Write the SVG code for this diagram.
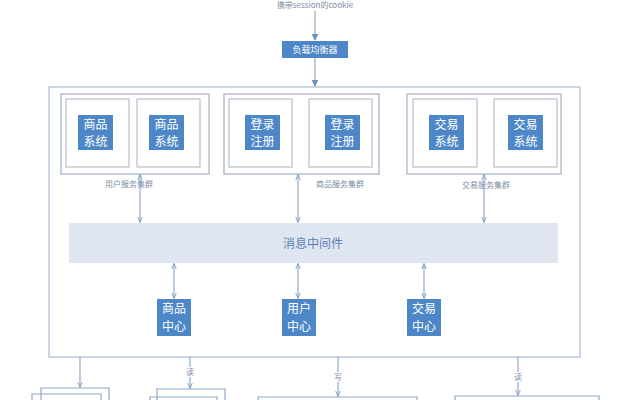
<svg xmlns="http://www.w3.org/2000/svg" width="626" height="400" viewBox="0 0 626 400">
<defs>
<marker id="ah" viewBox="0 0 10 10" refX="9" refY="5" markerWidth="6" markerHeight="6" orient="auto-start-reverse" markerUnits="userSpaceOnUse"><path d="M0,1 L10,5 L0,9" fill="none" stroke="#7f9ab9" stroke-width="1.5"/></marker>
<marker id="ahf" viewBox="0 0 10 10" refX="9" refY="5" markerWidth="7" markerHeight="7" orient="auto" markerUnits="userSpaceOnUse"><path d="M0,0 L10,5 L0,10 z" fill="#6d8fb9"/></marker>
</defs>
<style>
.frame{fill:none;stroke:#a9bbd3;stroke-width:1.2}
.grp{fill:none;stroke:#b7c0cc;stroke-width:1.5}
.inner{fill:#fff;stroke:#b7c0cc;stroke-width:1.2}
.blue{fill:#4d87c7}
.wt{fill:#fff;font-family:"Noto Sans CJK SC","Liberation Sans",sans-serif;font-size:12px;text-anchor:middle}
.sm{fill:#7d8ca3;font-family:"Noto Sans CJK SC","Liberation Sans",sans-serif;font-size:8px;text-anchor:middle}
.ln{stroke:#90a9c8;stroke-width:1.2;fill:none}
</style>
<rect width="626" height="400" fill="#fff"/>
<g id="top-label"><text class="sm" x="315" y="8">携带session的cookie</text></g>
<g id="lb"><rect class="blue" x="282" y="41" width="66" height="17"/><text class="wt" x="315" y="53" style="font-size:9px">负载均衡器</text></g>
<g id="main-frame"><rect class="frame" x="49" y="87" width="531" height="270"/></g>
<g id="cluster-user">
<rect class="grp" x="61" y="94" width="148" height="80"/>
<rect class="inner" x="66" y="99" width="63" height="68"/>
<rect class="inner" x="137" y="99" width="63" height="68"/>
<rect class="blue" x="78" y="115" width="35" height="35"/><text class="wt" x="95.5" y="129">商品</text><text class="wt" x="95.5" y="146">系统</text>
<rect class="blue" x="149" y="115" width="35" height="35"/><text class="wt" x="166.5" y="129">商品</text><text class="wt" x="166.5" y="146">系统</text>
<text class="sm" x="129" y="187">用户服务集群</text>
</g>
<g id="cluster-goods">
<rect class="grp" x="224" y="94" width="155" height="80"/>
<rect class="inner" x="229" y="99" width="63" height="68"/>
<rect class="inner" x="309" y="99" width="63" height="68"/>
<rect class="blue" x="245" y="115" width="35" height="35"/><text class="wt" x="262.5" y="129">登录</text><text class="wt" x="262.5" y="146">注册</text>
<rect class="blue" x="325" y="115" width="35" height="35"/><text class="wt" x="342.5" y="129">登录</text><text class="wt" x="342.5" y="146">注册</text>
<text class="sm" x="340" y="187">商品服务集群</text>
</g>
<g id="cluster-trade">
<rect class="grp" x="407" y="94" width="154" height="80"/>
<rect class="inner" x="413" y="99" width="64" height="68"/>
<rect class="inner" x="494" y="99" width="63" height="68"/>
<rect class="blue" x="429" y="115" width="35" height="35"/><text class="wt" x="446.5" y="129">交易</text><text class="wt" x="446.5" y="146">系统</text>
<rect class="blue" x="508" y="115" width="35" height="35"/><text class="wt" x="525.5" y="129">交易</text><text class="wt" x="525.5" y="146">系统</text>
<text class="sm" x="486" y="188">交易服务集群</text>
</g>
<g id="mq"><rect x="69" y="223" width="489" height="40" fill="#dfe6f2"/><text x="313" y="248" text-anchor="middle" font-family="'Noto Sans CJK SC','Liberation Sans',sans-serif" font-size="12" fill="#5a7fb3">消息中间件</text></g>
<g id="center-goods"><rect class="blue" x="157" y="299" width="34" height="37"/><text class="wt" x="174" y="313">商品</text><text class="wt" x="174" y="331">中心</text></g>
<g id="center-user"><rect class="blue" x="282" y="299" width="34" height="37"/><text class="wt" x="299" y="313">用户</text><text class="wt" x="299" y="331">中心</text></g>
<g id="center-trade"><rect class="blue" x="407" y="299" width="34" height="37"/><text class="wt" x="424" y="313">交易</text><text class="wt" x="424" y="331">中心</text></g>
<g id="bottom-boxes">
<polyline class="ln" points="41,400 41,388 109,388 109,400"/>
<polyline class="ln" points="32,400 32,394 101,394 101,400"/>
<polyline class="ln" points="157,400 157,389 225,389 225,400"/>
<polyline class="ln" points="150,400 150,397 217,397 217,400"/>
<polyline class="ln" points="258,400 258,397 417,397 417,400"/>
<polyline class="ln" points="455,400 455,396 599,396 599,400"/>
</g>
<g id="connectors">
<line class="ln" x1="315" y1="11" x2="315" y2="40" marker-end="url(#ahf)"/>
<line class="ln" x1="315" y1="58" x2="315" y2="86" marker-end="url(#ahf)"/>
<line class="ln" x1="140" y1="175" x2="140" y2="222" marker-start="url(#ah)" marker-end="url(#ah)"/>
<line class="ln" x1="298" y1="175" x2="298" y2="222" marker-start="url(#ah)" marker-end="url(#ah)"/>
<line class="ln" x1="484" y1="175" x2="484" y2="222" marker-start="url(#ah)" marker-end="url(#ah)"/>
<line class="ln" x1="174" y1="264" x2="174" y2="298" marker-start="url(#ah)" marker-end="url(#ah)"/>
<line class="ln" x1="298" y1="264" x2="298" y2="298" marker-start="url(#ah)" marker-end="url(#ah)"/>
<line class="ln" x1="424" y1="264" x2="424" y2="298" marker-start="url(#ah)" marker-end="url(#ah)"/>
<line class="ln" x1="80" y1="357" x2="80" y2="387" marker-end="url(#ah)"/>
<line class="ln" x1="190" y1="357" x2="190" y2="388" marker-end="url(#ah)"/>
<line class="ln" x1="338" y1="357" x2="338" y2="396" marker-end="url(#ah)"/>
<line class="ln" x1="518" y1="357" x2="518" y2="395" marker-end="url(#ah)"/>
<rect x="185" y="367" width="10" height="10" fill="#fff"/><text class="sm" x="190" y="375">读</text>
<rect x="333" y="372" width="10" height="10" fill="#fff"/><text class="sm" x="338" y="380">写</text>
<rect x="513" y="372" width="10" height="10" fill="#fff"/><text class="sm" x="518" y="380">读</text>
</g>
</svg>
